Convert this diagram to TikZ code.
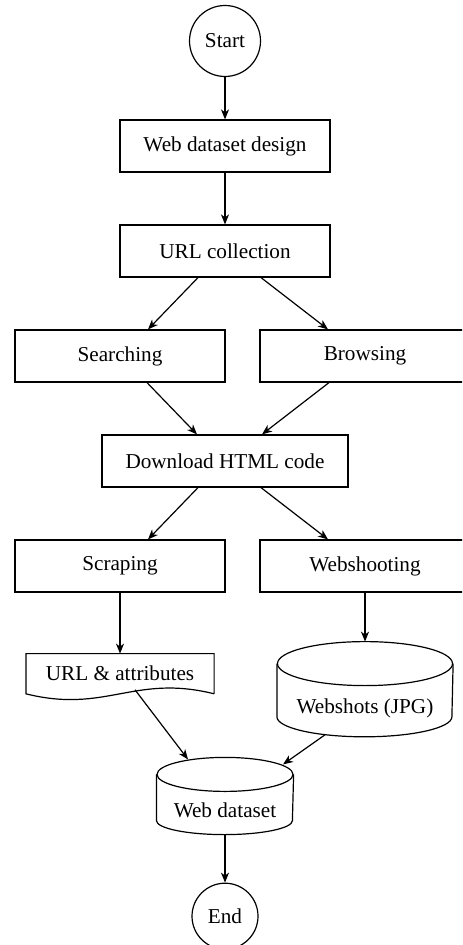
\documentclass[tikz,border=0pt]{standalone}
\usepackage{fontspec}
\setmainfont{Liberation Serif}
\usetikzlibrary{arrows.meta,positioning}

\begin{document}
\begin{tikzpicture}[semithick,-{Stealth[length=5pt,width=4pt,inset=1.5pt]},node distance=52.5pt,font=\fontsize{10.6}{12.7}\selectfont]
    \tikzstyle{terminal}=[circle, draw, minimum size=35.5pt, inner sep=0pt]
    \tikzstyle{stepbox}=[rectangle, draw, minimum width=105pt, minimum height=26pt, inner sep=0pt]
    \tikzstyle{store}=[rectangle, inner sep=0pt]
    \tikzstyle{doc}=[rectangle, minimum width=93.5pt, minimum height=19.5pt, inner sep=0pt]

    \clip (0,0) rectangle (231pt,-472.5pt);

    \node[terminal]          (start) at (112.5pt,-20.5pt) {Start};
    \node[stepbox]           (design) [below of=start] {Web dataset design};
    \node[stepbox]           (urlcol) [below of=design] {URL collection};
    \node[stepbox]           (search) [below of=urlcol, xshift=-52.5pt] {Searching};
    \node[stepbox]           (browse) [below of=urlcol, xshift=70pt] {Browsing};
    \node[stepbox, minimum width=123pt] (download) [below of=search, xshift=52.5pt] {Download HTML code};
    \node[stepbox]           (scrape) [below of=download, xshift=-52.5pt] {Scraping};
    \node[stepbox]           (shoot) [below of=download, xshift=70pt] {Webshooting};
    \node[doc]               (attr) [below=30.5pt of scrape] {URL \& attributes};
    \node[store, minimum width=87.5pt, minimum height=22pt] (shots) [below=46.5pt of shoot] {Webshots (JPG)};
    \node[store, minimum width=68pt, minimum height=18pt] (dataset) at (112.5pt,-405pt) {Web dataset};
    \node[terminal, minimum size=33pt] (end) [below=27pt of dataset] {End};

    % document outline with wavy bottom
    \draw[-] (attr.south east) -- (attr.north east) -- (attr.north west) -- (attr.south west)
        .. controls +(40pt,-10pt) and +(-40pt,10pt) .. (attr.south east);

    % cylinders
    \draw[-] ([yshift=11pt]shots.north) ellipse [x radius=43.75pt, y radius=11pt];
    \draw[-] ([yshift=11pt]shots.north west) -- ([yshift=7pt]shots.south west)
        arc [start angle=180, end angle=360, x radius=43.75pt, y radius=10pt] -- ([yshift=11pt]shots.north east);
    \draw[-] ([yshift=8.5pt]dataset.north) ellipse [x radius=34pt, y radius=8.5pt];
    \draw[-] ([yshift=8.5pt]dataset.north west) -- ([yshift=4pt]dataset.south west)
        arc [start angle=180, end angle=360, x radius=34pt, y radius=7pt] -- ([yshift=8.5pt]dataset.north east);

    \path (start) edge (design);
    \path (design) edge (urlcol);
    \path ([xshift=-13.5pt]urlcol.south) edge ([xshift=14pt]search.north);
    \path ([xshift=18pt]urlcol.south) edge ([xshift=-18.5pt]browse.north);
    \path ([xshift=13.5pt]search.south) edge ([xshift=-14pt]download.north);
    \path ([xshift=-18pt]browse.south) edge ([xshift=18.5pt]download.north);
    \path ([xshift=-13.5pt]download.south) edge ([xshift=14pt]scrape.north);
    \path ([xshift=18pt]download.south) edge ([xshift=-18.5pt]shoot.north);
    \path (scrape) edge (attr);
    \path (shoot) edge ([yshift=22pt]shots.north);
    \path ([xshift=7.5pt,yshift=2pt]attr.south) edge ([xshift=-18.5pt,yshift=16pt]dataset.north);
    \path ([xshift=-20pt,yshift=-2pt]shots.south) edge ([xshift=29pt,yshift=13.5pt]dataset.north);
    \path ([yshift=-3pt]dataset.south) edge (end);
\end{tikzpicture}
\end{document}
